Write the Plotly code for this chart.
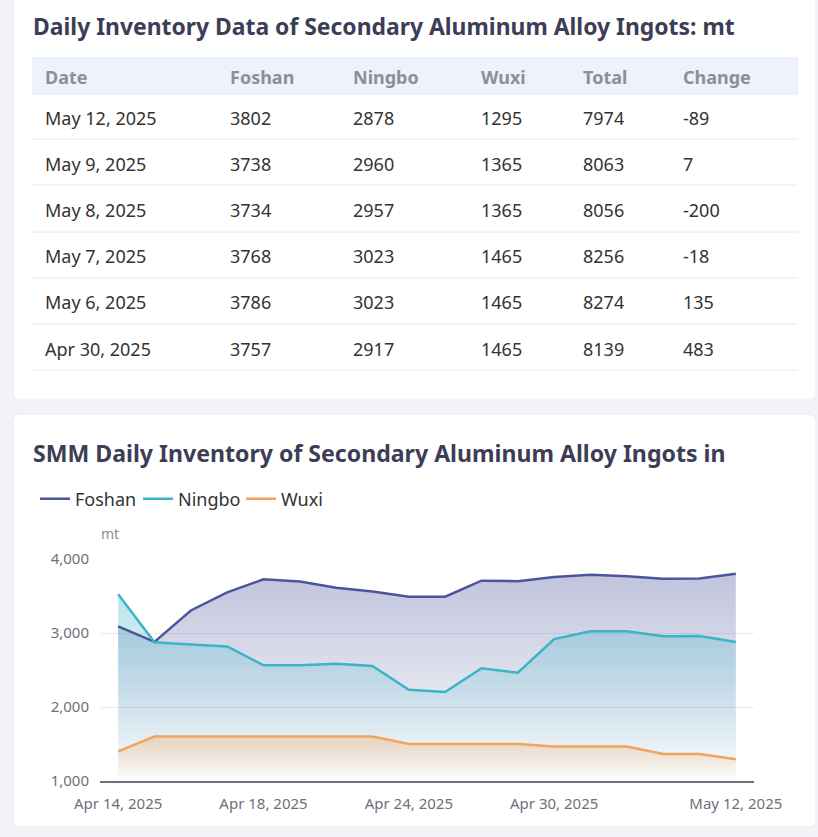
import plotly.graph_objects as go

# table data (latest first)
table_dates = ["May 12, 2025", "May 9, 2025", "May 8, 2025", "May 7, 2025", "May 6, 2025", "Apr 30, 2025"]
table_foshan = [3802, 3738, 3734, 3768, 3786, 3757]
table_ningbo = [2878, 2960, 2957, 3023, 3023, 2917]
table_wuxi = [1295, 1365, 1365, 1465, 1465, 1465]
table_total = [7974, 8063, 8056, 8256, 8274, 8139]
table_change = [-89, 7, -200, -18, 135, 483]
table_header = ["Date", "Foshan", "Ningbo", "Wuxi", "Total", "Change"]

# chart data
dates = ["Apr 14, 2025", "Apr 15, 2025", "Apr 16, 2025", "Apr 17, 2025", "Apr 18, 2025",
         "Apr 21, 2025", "Apr 22, 2025", "Apr 23, 2025", "Apr 24, 2025", "Apr 25, 2025",
         "Apr 28, 2025", "Apr 29, 2025", "Apr 30, 2025", "May 6, 2025", "May 7, 2025",
         "May 8, 2025", "May 9, 2025", "May 12, 2025"]
foshan = [3090, 2880, 3305, 3550, 3725, 3695, 3613, 3560, 3490, 3490,
          3707, 3700, 3757, 3786, 3768, 3734, 3738, 3802]
ningbo = [3525, 2875, 2845, 2818, 2563, 2563, 2586, 2554, 2234, 2203,
          2523, 2464, 2917, 3023, 3023, 2957, 2960, 2878]
wuxi = [1400, 1600, 1600, 1600, 1600, 1600, 1600, 1600, 1500, 1500,
        1500, 1500, 1465, 1465, 1465, 1365, 1365, 1295]
tick_dates = ["Apr 14, 2025", "Apr 18, 2025", "Apr 24, 2025", "Apr 30, 2025", "May 12, 2025"]

W, H = 818, 837
FONT = "Noto Sans"
BG = "#f2f3f9"


def px(x):
    return x / W


def py(y):
    return 1 - y / H


def rrect(x0, y0, x1, y1, r, fill, line):
    # rounded rectangle in paper coords
    rx, ry = r / W, r / H
    a, b, c, d = px(x0), py(y0), px(x1), py(y1)
    if r:
        path = (f"M{a+rx},{b} L{c-rx},{b} Q{c},{b} {c},{b-ry} L{c},{d+ry} Q{c},{d} {c-rx},{d} "
                f"L{a+rx},{d} Q{a},{d} {a},{d+ry} L{a},{b-ry} Q{a},{b} {a+rx},{b} Z")
    else:
        path = f"M{a},{b} L{c},{b} L{c},{d} L{a},{d} Z"
    return dict(type="path", xref="paper", yref="paper", path=path, layer="below",
                fillcolor=fill, line=dict(color=line, width=1 if line else 0))


fig = go.Figure()

# header band is a shape behind the table, row rules are drawn as lines
fig.add_trace(go.Table(
    domain=dict(x=[px(37), px(798)], y=[py(380), py(57)]),
    columnwidth=[185, 123, 128, 102, 100, 123],
    header=dict(values=[f"<b>{h}</b>" for h in table_header],
                fill_color="rgba(0,0,0,0)", line_color="rgba(0,0,0,0)", align="left", height=46,
                font=dict(family=FONT, size=18, color="#8b8f9c")),
    cells=dict(values=[table_dates, table_foshan, table_ningbo, table_wuxi, table_total, table_change],
               fill_color="rgba(0,0,0,0)", line_color="rgba(0,0,0,0)", align="left", height=46.2,
               font=dict(family=FONT, size=18, color="#333333")),
))

series = [("Foshan", foshan, (75, 85, 155)),
          ("Ningbo", ningbo, (59, 180, 200)),
          ("Wuxi", wuxi, (244, 163, 93))]

for name, vals, (r, g, b) in series:
    fig.add_trace(go.Scatter(
        x=dates, y=vals, mode="lines", fill="tozeroy", showlegend=False, hoverinfo="skip",
        line=dict(width=0),
        fillgradient=dict(type="vertical", start=1000, stop=max(vals),
                          colorscale=[[0, f"rgba({r},{g},{b},0)"], [1, f"rgba({r},{g},{b},0.35)"]]),
    ))

for name, vals, (r, g, b) in series:
    fig.add_trace(go.Scatter(
        x=dates, y=vals, mode="lines", name=name,
        line=dict(color=f"rgb({r},{g},{b})", width=2.5),
    ))

shapes = [rrect(13, -10, 816, 400, 8, "white", "#eaecf3"),
          rrect(13, 414, 816, 827, 8, "white", "#eaecf3"),
          rrect(32, 57, 798, 95, 0, "#eef2fb", None)]
for y in [139, 185, 232, 278, 324, 370]:
    shapes.append(dict(type="line", xref="paper", yref="paper", x0=px(32), x1=px(798),
                       y0=py(y), y1=py(y), line=dict(color="#e6e8ef", width=1), layer="above"))

fig.update_layout(
    width=W, height=H,
    margin=dict(l=0, r=0, t=0, b=0, pad=0, autoexpand=False),
    paper_bgcolor=BG,
    plot_bgcolor="rgba(0,0,0,0)",
    font=dict(family=FONT, color="#333333"),
    shapes=shapes,
    showlegend=True,
    legend=dict(orientation="h", x=px(35), y=py(499), xanchor="left", yanchor="middle",
                entrywidth=58, entrywidthmode="pixels",
                font=dict(size=18, color="#333333"), bgcolor="rgba(0,0,0,0)"),
    xaxis=dict(domain=[px(100), px(754)], type="category", range=[-0.5, 17.5],
               tickmode="array", tickvals=tick_dates, ticktext=tick_dates, automargin=False,
               showgrid=False, showline=True, linecolor="#6e7079", linewidth=1.5,
               ticks="", tickfont=dict(size=15, color="#6e7079"), zeroline=False,
               ticklabelstandoff=8),
    yaxis=dict(domain=[py(781), py(559)], range=[1000, 4000], tickvals=[1000, 2000, 3000, 4000],
               tickformat=",", showgrid=True, gridcolor="#e8eaf2", zeroline=False, automargin=False,
               showline=False, ticks="", tickfont=dict(size=15, color="#6e7079"),
               ticklabelstandoff=10),
    annotations=[
        dict(text="<b>Daily Inventory Data of Secondary Aluminum Alloy Ingots: mt</b>",
             x=px(31), y=py(26), xref="paper", yref="paper", xanchor="left", yanchor="middle",
             showarrow=False, font=dict(size=22.9, color="#3d3d56")),
        dict(text="<b>SMM Daily Inventory of Secondary Aluminum Alloy Ingots in</b>",
             x=px(31), y=py(453), xref="paper", yref="paper", xanchor="left", yanchor="middle",
             showarrow=False, font=dict(size=23.1, color="#3d3d56")),
        dict(text="mt", x=px(99), y=py(533), xref="paper", yref="paper", xanchor="left",
             yanchor="middle", showarrow=False, font=dict(size=14, color="#8a8d99")),
    ],
)

fig.write_html("out.html", config={"displayModeBar": False},
               post_script=f"document.body.style.margin='0';document.body.style.background='{BG}';")
